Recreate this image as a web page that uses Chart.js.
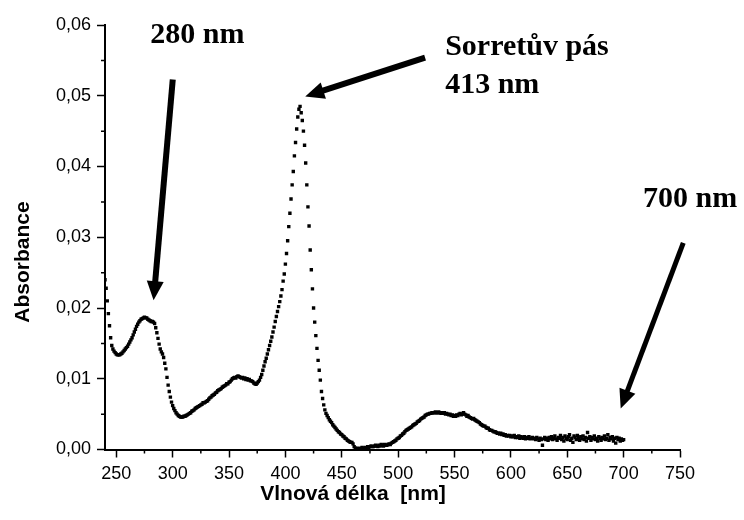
<!DOCTYPE html>
<html>
<head>
<meta charset="utf-8">
<script src="https://cdn.jsdelivr.net/npm/chart.js@4.4.1/dist/chart.umd.min.js"></script>
<style>
  html, body { margin: 0; padding: 0; background: #ffffff; }
  #wrap { width: 744px; height: 520px; position: relative; }
</style>
</head>
<body>
<div id="wrap"><canvas id="c" width="744" height="520"></canvas></div>
<script>
// ---- data ----
const wavelengthStart = 240;   // nm, first sample
const wavelengthStep = 1;      // nm between samples
const absorbance = [
0.0240,0.0228,0.0210,0.0192,0.0175,0.0158,0.0147,0.0142,0.0139,0.0137,
0.0135,0.0134,0.0134,0.0134,0.0135,0.0136,0.0138,0.0140,0.0142,0.0144,
0.0146,0.0149,0.0152,0.0155,0.0158,0.0162,0.0166,0.0170,0.0174,0.0177,
0.0180,0.0182,0.0184,0.0185,0.0186,0.0187,0.0186,0.0186,0.0184,0.0183,
0.0182,0.0181,0.0181,0.0180,0.0178,0.0172,0.0165,0.0157,0.0149,0.0142,
0.0138,0.0135,0.0130,0.0122,0.0114,0.0102,0.0091,0.0082,0.0074,0.0067,
0.0062,0.0058,0.0055,0.0052,0.0050,0.0048,0.0047,0.0046,0.0046,0.0046,
0.0047,0.0047,0.0048,0.0049,0.0050,0.0051,0.0052,0.0054,0.0055,0.0056,
0.0058,0.0059,0.0060,0.0061,0.0062,0.0063,0.0064,0.0066,0.0066,0.0067,
0.0068,0.0069,0.0071,0.0073,0.0074,0.0076,0.0077,0.0078,0.0080,0.0081,
0.0083,0.0084,0.0085,0.0086,0.0088,0.0089,0.0090,0.0091,0.0093,0.0093,
0.0095,0.0096,0.0098,0.0100,0.0101,0.0102,0.0101,0.0103,0.0104,0.0103,
0.0102,0.0101,0.0102,0.0100,0.0101,0.0099,0.0100,0.0098,0.0099,0.0097,
0.0097,0.0096,0.0094,0.0093,0.0092,0.0094,0.0096,0.0098,0.0102,0.0106,
0.0112,0.0118,0.0124,0.0129,0.0135,0.0141,0.0147,0.0153,0.0159,0.0166,
0.0173,0.0181,0.0188,0.0195,0.0202,0.0209,0.0217,0.0226,0.0238,0.0248,
0.0262,0.0277,0.0295,0.0315,0.0334,0.0354,0.0374,0.0393,0.0415,0.0434,
0.0453,0.0470,0.0481,0.0485,0.0476,0.0465,0.0450,0.0430,0.0405,0.0374,
0.0343,0.0316,0.0282,0.0254,0.0227,0.0200,0.0180,0.0161,0.0143,0.0126,
0.0112,0.0098,0.0082,0.0072,0.0063,0.0056,0.0051,0.0048,0.0045,0.0042,
0.0040,0.0038,0.0035,0.0033,0.0031,0.0029,0.0027,0.0025,0.0024,0.0022,
0.0021,0.0019,0.0018,0.0016,0.0015,0.0013,0.0012,0.0011,0.0010,0.0010,
0.0008,0.0004,0.0002,0.0001,0.0002,0.0001,0.0001,0.0002,0.0003,0.0002,
0.0002,0.0003,0.0002,0.0004,0.0003,0.0004,0.0005,0.0004,0.0004,0.0005,
0.0006,0.0005,0.0004,0.0006,0.0005,0.0007,0.0006,0.0005,0.0007,0.0006,
0.0006,0.0007,0.0008,0.0007,0.0009,0.0010,0.0011,0.0012,0.0013,0.0015,
0.0016,0.0017,0.0019,0.0020,0.0022,0.0023,0.0025,0.0027,0.0028,0.0029,
0.0030,0.0031,0.0032,0.0034,0.0035,0.0036,0.0037,0.0039,0.0040,0.0041,
0.0043,0.0044,0.0045,0.0046,0.0048,0.0049,0.0050,0.0050,0.0051,0.0051,
0.0052,0.0052,0.0052,0.0053,0.0052,0.0052,0.0053,0.0052,0.0051,0.0052,
0.0051,0.0052,0.0050,0.0051,0.0050,0.0049,0.0050,0.0048,0.0049,0.0047,
0.0048,0.0047,0.0049,0.0048,0.0050,0.0051,0.0049,0.0050,0.0052,0.0050,
0.0049,0.0047,0.0048,0.0046,0.0045,0.0044,0.0043,0.0044,0.0042,0.0041,
0.0040,0.0039,0.0038,0.0036,0.0035,0.0034,0.0033,0.0033,0.0031,0.0030,
0.0030,0.0028,0.0027,0.0027,0.0026,0.0025,0.0025,0.0024,0.0023,0.0023,
0.0022,0.0023,0.0021,0.0022,0.0020,0.0021,0.0019,0.0020,0.0019,0.0020,
0.0018,0.0019,0.0018,0.0020,0.0017,0.0018,0.0017,0.0019,0.0016,0.0018,
0.0017,0.0016,0.0018,0.0015,0.0017,0.0016,0.0018,0.0015,0.0016,0.0017,
0.0015,0.0016,0.0014,0.0017,0.0015,0.0013,0.0016,0.0014,0.0006,0.0015,
0.0017,0.0014,0.0016,0.0013,0.0017,0.0015,0.0018,0.0014,0.0016,0.0019,
0.0015,0.0013,0.0017,0.0016,0.0020,0.0014,0.0017,0.0012,0.0019,0.0016,
0.0014,0.0018,0.0021,0.0013,0.0016,0.0010,0.0019,0.0017,0.0014,0.0020,
0.0016,0.0013,0.0018,0.0015,0.0019,0.0014,0.0017,0.0012,0.0024,0.0016,
0.0018,0.0013,0.0017,0.0015,0.0019,0.0014,0.0016,0.0012,0.0018,0.0016,
0.0013,0.0017,0.0015,0.0019,0.0014,0.0016,0.0021,0.0013,0.0017,0.0015,
0.0018,0.0012,0.0016,0.0009,0.0017,0.0014,0.0016,0.0012,0.0015,0.0013,
0.0014
];
const wavelengths = absorbance.map((_, i) => wavelengthStart + i * wavelengthStep);

const xMajorTicks = [250, 300, 350, 400, 450, 500, 550, 600, 650, 700, 750];
const xMinorTicks = [275, 325, 375, 425, 475, 525, 575, 625, 675, 725];
const yMajorTicks = [0, 0.01, 0.02, 0.03, 0.04, 0.05, 0.06];
const yMinorTicks = [0.005, 0.015, 0.025, 0.035, 0.045, 0.055];

const xTitle = 'Vlnová délka  [nm]';
const yTitle = 'Absorbance';

// annotations (anchored in data coordinates)
const labels = [
  { lines: ['280 nm'], x: 280.1, y: 0.0574 },
  { lines: ['Sorretův pás', '413 nm'], x: 541.7, y: 0.0558 },
  { lines: ['700 nm'], x: 717.2, y: 0.0343 }
];
const arrows = [
  { from: [300.1, 0.0523], to: [283.1, 0.0211], width: 6 },
  { from: [523.9, 0.0554], to: [417.6, 0.0499], width: 6 },
  { from: [752.9, 0.0292], to: [697.4, 0.0058], width: 5 }
];

// ---- chart ----
Chart.defaults.font.family = '"Liberation Sans", Arial, sans-serif';
Chart.defaults.color = '#000';

const extras = {
  id: 'extras',
  afterDatasetsDraw(chart) {
    const ctx = chart.ctx;
    const xs = chart.scales.x, ys = chart.scales.y;
    const area = chart.chartArea;
    ctx.save();
    // minor ticks
    ctx.strokeStyle = '#000';
    ctx.lineWidth = 1.5;
    ctx.beginPath();
    xMinorTicks.forEach(v => {
      const px = xs.getPixelForValue(v);
      ctx.moveTo(px, area.bottom);
      ctx.lineTo(px, area.bottom + 4);
    });
    yMinorTicks.forEach(v => {
      const py = ys.getPixelForValue(v);
      ctx.moveTo(area.left, py);
      ctx.lineTo(area.left - 4, py);
    });
    ctx.stroke();

    // arrows
    ctx.fillStyle = '#000';
    arrows.forEach(a => {
      const x1 = xs.getPixelForValue(a.from[0]), y1 = ys.getPixelForValue(a.from[1]);
      const x2 = xs.getPixelForValue(a.to[0]), y2 = ys.getPixelForValue(a.to[1]);
      const ang = Math.atan2(y2 - y1, x2 - x1);
      const headLen = 19, headHalf = 8.5;
      const bx = x2 - headLen * Math.cos(ang), by = y2 - headLen * Math.sin(ang);
      ctx.lineWidth = a.width;
      ctx.lineCap = 'butt';
      ctx.beginPath();
      ctx.moveTo(x1, y1);
      ctx.lineTo(bx + 2 * Math.cos(ang), by + 2 * Math.sin(ang));
      ctx.stroke();
      ctx.beginPath();
      ctx.moveTo(x2, y2);
      ctx.lineTo(bx + headHalf * Math.sin(ang), by - headHalf * Math.cos(ang));
      ctx.lineTo(bx - headHalf * Math.sin(ang), by + headHalf * Math.cos(ang));
      ctx.closePath();
      ctx.fill();
    });

    // annotation texts
    ctx.font = 'bold 30px "Liberation Serif", "Times New Roman", serif';
    ctx.textAlign = 'left';
    ctx.textBaseline = 'alphabetic';
    labels.forEach(l => {
      const px = xs.getPixelForValue(l.x), py = ys.getPixelForValue(l.y);
      l.lines.forEach((t, i) => ctx.fillText(t, px, py + i * 38));
    });

    // axis titles
    ctx.font = 'bold 21px "Liberation Sans", Arial, sans-serif';
    ctx.textAlign = 'center';
    ctx.textBaseline = 'middle';
    ctx.fillText(xTitle, xs.getPixelForValue(460), area.bottom + 45);
    ctx.save();
    ctx.translate(area.left - 82, ys.getPixelForValue(0.0265));
    ctx.rotate(-Math.PI / 2);
    ctx.fillText(yTitle, 0, 0);
    ctx.restore();
    ctx.restore();
  }
};

new Chart(document.getElementById('c'), {
  type: 'scatter',
  data: {
    datasets: [{
      data: wavelengths.map((w, i) => ({ x: w, y: absorbance[i] })),
      pointStyle: 'rect',
      pointRadius: 2.4,
      pointBorderWidth: 0,
      backgroundColor: '#000',
      borderColor: '#000',
      showLine: false
    }]
  },
  options: {
    responsive: false,
    animation: false,
    events: [],
    layout: { padding: { left: 0, right: 64, top: 25, bottom: 0 } },
    plugins: { legend: { display: false }, tooltip: { enabled: false } },
    scales: {
      x: {
        type: 'linear',
        min: 240, max: 750,
        afterFit(s) { s.height = 70.5; },
        afterBuildTicks(s) { s.ticks = xMajorTicks.map(v => ({ value: v })); },
        ticks: { font: { size: 18 }, padding: 6, maxRotation: 0, autoSkip: false, color: '#000' },
        grid: { display: true, drawOnChartArea: false, drawTicks: true, tickLength: 8, tickWidth: 1.5, tickColor: '#000', color: '#000' },
        border: { display: true, color: '#000', width: 2 }
      },
      y: {
        type: 'linear',
        min: 0, max: 0.06,
        afterFit(s) { s.width = 105; },
        afterBuildTicks(s) { s.ticks = yMajorTicks.map(v => ({ value: v })); },
        ticks: { font: { size: 18 }, padding: 6, color: '#000',
          callback: v => v.toFixed(2).replace('.', ',') },
        grid: { display: true, drawOnChartArea: false, drawTicks: true, tickLength: 8, tickWidth: 1.5, tickColor: '#000', color: '#000' },
        border: { display: true, color: '#000', width: 2 }
      }
    }
  },
  plugins: [extras]
});
</script>
</body>
</html>
